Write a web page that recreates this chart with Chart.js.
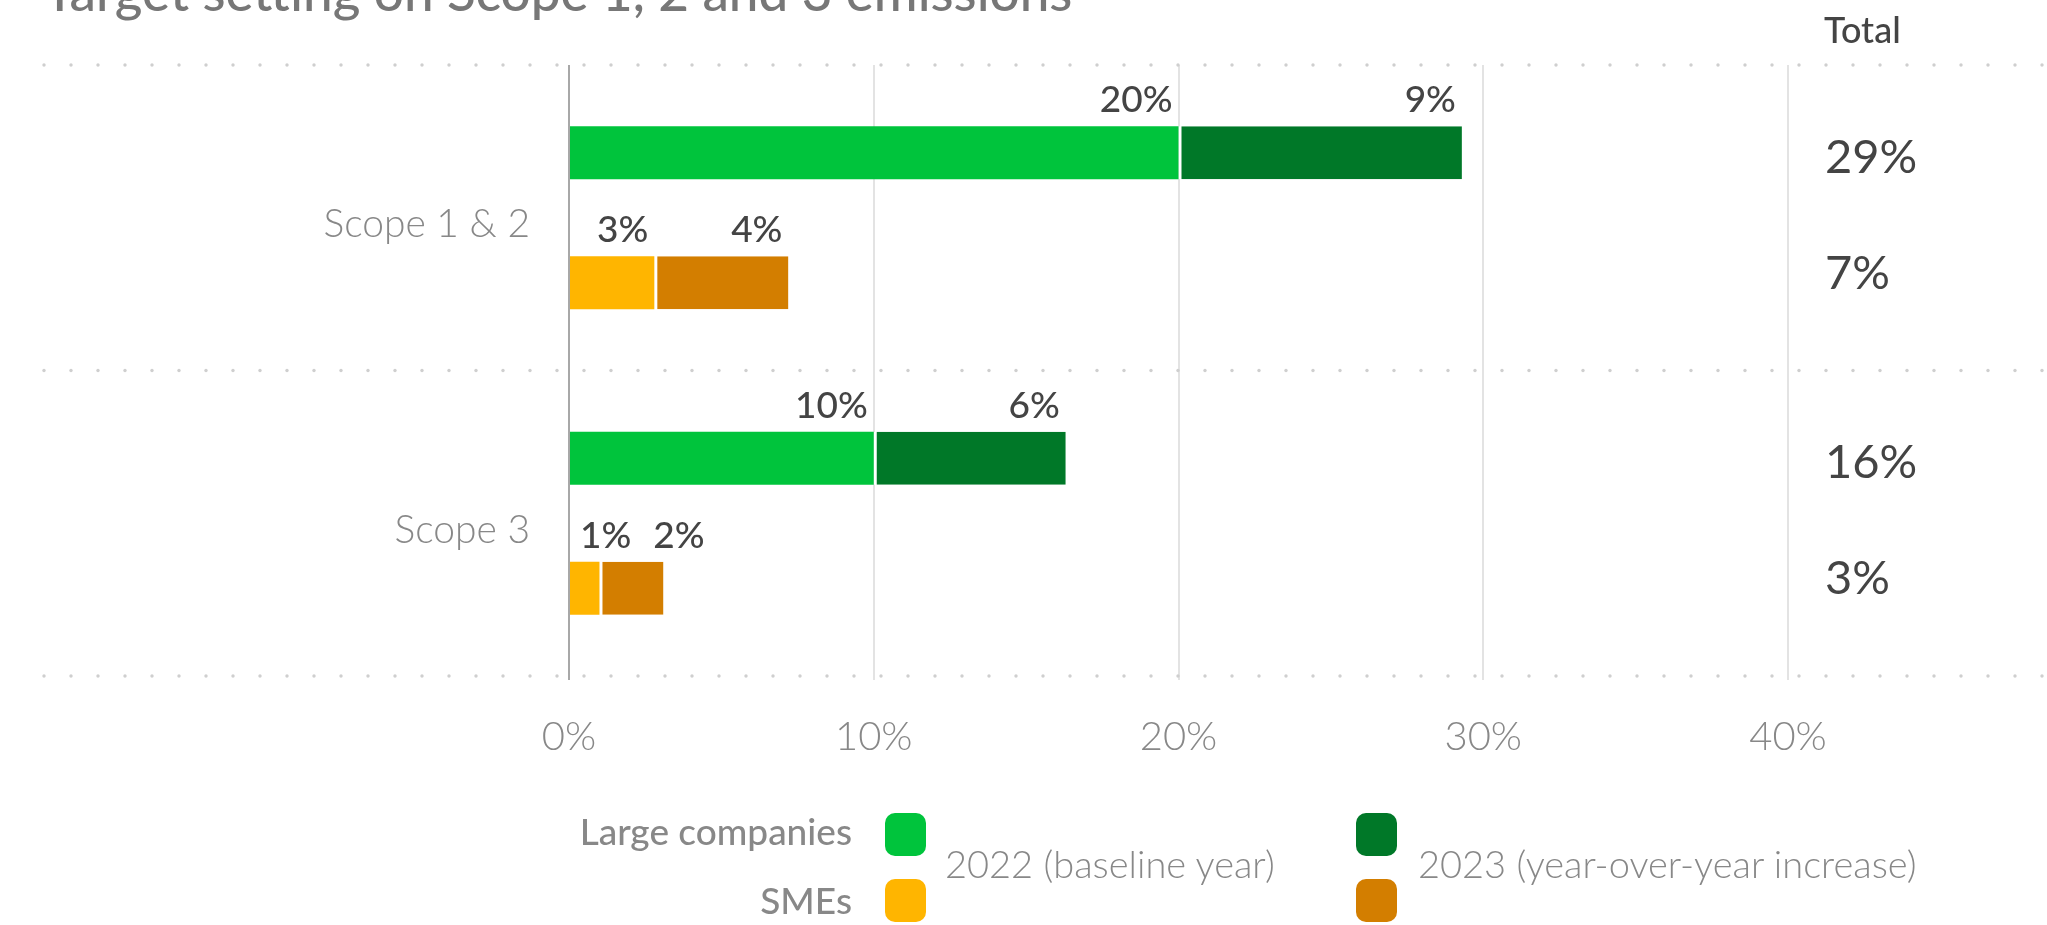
<!DOCTYPE html>
<html>
<head>
<meta charset="utf-8">
<script src="https://cdn.jsdelivr.net/npm/chart.js@4.4.0/dist/chart.umd.min.js"></script>
<style>
  html, body { margin: 0; padding: 0; background: #fff; }
  #wrap { position: relative; width: 2047px; height: 925px; overflow: hidden; font-family: Lato, "Noto Sans", sans-serif; }
  #chartBox { position: absolute; left: 0; top: 0; width: 2047px; height: 925px; }
  .txt { position: absolute; white-space: nowrap; line-height: 1; }
  #title { left: 44px; top: -36px; font-size: 53px; font-weight: 500; color: #777; }
  #totalHead { left: 1824px; top: 11px; font-size: 36px; font-weight: 500; color: #444; }
  .grp { right: 1195px; font-size: 37px; font-weight: 500; color: #888; text-align: right; }
  .yr { top: 844px; font-size: 38px; font-weight: 300; color: #888; }
  .sw { position: absolute; width: 41px; height: 43px; border-radius: 10px; }
</style>
</head>
<body>
<div id="wrap">
  <div id="chartBox"><canvas id="chart"></canvas></div>
  <div class="txt" id="title">Target setting on Scope 1, 2 and 3 emissions</div>
  <div class="txt" id="totalHead">Total</div>
  <div id="legend"></div>
</div>
<script>
// Data
const categories = ["Scope 1 & 2", "Scope 3"];
const largeBase = [20.0, 10.0];      // 2022
const largeIncrease = [9.3, 6.3];    // 2023 increase
const smeBase = [2.8, 1.0];
const smeIncrease = [4.4, 2.1];
const xTicks = [0, 10, 20, 30, 40];
const groupNames = ["Large companies", "SMEs"];
const yearNames = ["2022 (baseline year)", "2023 (year-over-year increase)"];

const colors = {
    large: ["#00c43c", "#007828"],
    sme: ["#ffb500", "#d37e00"]
};
const FONT = 'Lato, "Noto Sans", sans-serif';

// Legend (HTML)
const legend = document.getElementById("legend");
const grpTops = [812, 881];
const swTops = [813, 879];
const swLefts = [885, 1356];
const yrLefts = [945, 1418];
groupNames.forEach((g, gi) => {
    const d = document.createElement("div");
    d.className = "txt grp";
    d.style.top = grpTops[gi] + "px";
    d.textContent = g;
    legend.appendChild(d);
    const cols = gi === 0 ? colors.large : colors.sme;
    cols.forEach((c, yi) => {
        const s = document.createElement("div");
        s.className = "sw";
        s.style.left = swLefts[yi] + "px";
        s.style.top = swTops[gi] + "px";
        s.style.background = c;
        legend.appendChild(s);
    });
});
yearNames.forEach((y, yi) => {
    const d = document.createElement("div");
    d.className = "txt yr";
    d.style.left = yrLefts[yi] + "px";
    d.textContent = y;
    legend.appendChild(d);
});

// Dotted separators between categories
const dotsPlugin = {
    id: "dots",
    beforeDatasetsDraw(chart) {
        const y = chart.scales.y;
        const ctx = chart.ctx;
        const half = (y.getPixelForValue(1) - y.getPixelForValue(0)) / 2;
        const lines = [y.getPixelForValue(0) - half];
        categories.forEach((c, i) => lines.push(y.getPixelForValue(i) + half));
        ctx.save();
        ctx.fillStyle = "#cfcfcf";
        lines.forEach(py => {
            for (let x = 44; x < chart.width; x += 27) {
                ctx.beginPath();
                ctx.arc(x, py, 1.7, 0, Math.PI * 2);
                ctx.fill();
            }
        });
        ctx.restore();
    }
};

// Segment labels above bars + totals on the right
const labelPlugin = {
    id: "segLabels",
    afterDatasetsDraw(chart) {
        const ctx = chart.ctx;
        ctx.save();
        ctx.font = "500 37px " + FONT;
        ctx.fillStyle = "#444";
        ctx.textAlign = "left";
        ctx.textBaseline = "alphabetic";
        [[0, 1], [2, 3]].forEach(pair => {
            categories.forEach((c, i) => {
                let prevRight = -Infinity;
                pair.forEach(di => {
                    const bar = chart.getDatasetMeta(di).data[i];
                    const val = chart.data.datasets[di].data[i];
                    const text = Math.round(val) + "%";
                    const w = ctx.measureText(text).width;
                    const start = Math.min(bar.x, bar.base);
                    const left = Math.max(bar.x - w - 6, start + 10, prevRight + 22);
                    ctx.fillText(text, left, bar.y - bar.height / 2 - 14);
                    prevRight = left + w;
                });
            });
        });

        // totals
        ctx.font = "400 47px " + FONT;
        const xText = chart.chartArea.right + 37;
        const stacks = [[largeBase, largeIncrease, 1, 20], [smeBase, smeIncrease, 3, 6]];
        stacks.forEach(([a, b, di, dy]) => {
            categories.forEach((c, i) => {
                const bar = chart.getDatasetMeta(di).data[i];
                ctx.fillText(Math.round(a[i] + b[i]) + "%", xText, bar.y + dy);
            });
        });
        ctx.restore();
    }
};

const incBorder = { left: 3, right: 0, top: 0, bottom: 0 };

new Chart(document.getElementById("chart"), {
    type: "bar",
    data: {
        labels: categories,
        datasets: [
            { label: yearNames[0], data: largeBase, stack: "large", backgroundColor: colors.large[0], borderWidth: 0 },
            { label: yearNames[1], data: largeIncrease, stack: "large", backgroundColor: colors.large[1],
              borderColor: "#fff", borderWidth: incBorder, borderSkipped: false },
            { label: yearNames[0], data: smeBase, stack: "sme", backgroundColor: colors.sme[0], borderWidth: 0 },
            { label: yearNames[1], data: smeIncrease, stack: "sme", backgroundColor: colors.sme[1],
              borderColor: "#fff", borderWidth: incBorder, borderSkipped: false }
        ]
    },
    options: {
        indexAxis: "y",
        responsive: true,
        maintainAspectRatio: false,
        animation: false,
        categoryPercentage: 0.851,
        barPercentage: 0.408,
        layout: { padding: { top: 65, right: 259, bottom: 0, left: 0 } },
        plugins: {
            legend: { display: false },
            tooltip: { enabled: false }
        },
        scales: {
            x: {
                stacked: true,
                min: 0,
                max: 40,
                afterBuildTicks: s => { s.ticks = xTicks.map(v => ({ value: v })); },
                afterFit: s => { s.height = 925 - 676; },
                border: { display: false },
                grid: {
                    color: c => (c.tick && c.tick.value === 0) ? "#a8a8a8" : "#e3e3e3",
                    lineWidth: 2,
                    tickLength: 4
                },
                ticks: {
                    padding: 33,
                    color: "#888",
                    font: { family: FONT, size: 40, weight: 300 },
                    callback: v => v + "%"
                }
            },
            y: {
                afterFit: s => { s.width = 569; },
                border: { display: false },
                grid: { display: false, drawTicks: false },
                ticks: {
                    padding: 39,
                    labelOffset: 7,
                    color: "#888",
                    font: { family: FONT, size: 39, weight: 300 }
                }
            }
        }
    },
    plugins: [dotsPlugin, labelPlugin]
});
</script>
</body>
</html>
